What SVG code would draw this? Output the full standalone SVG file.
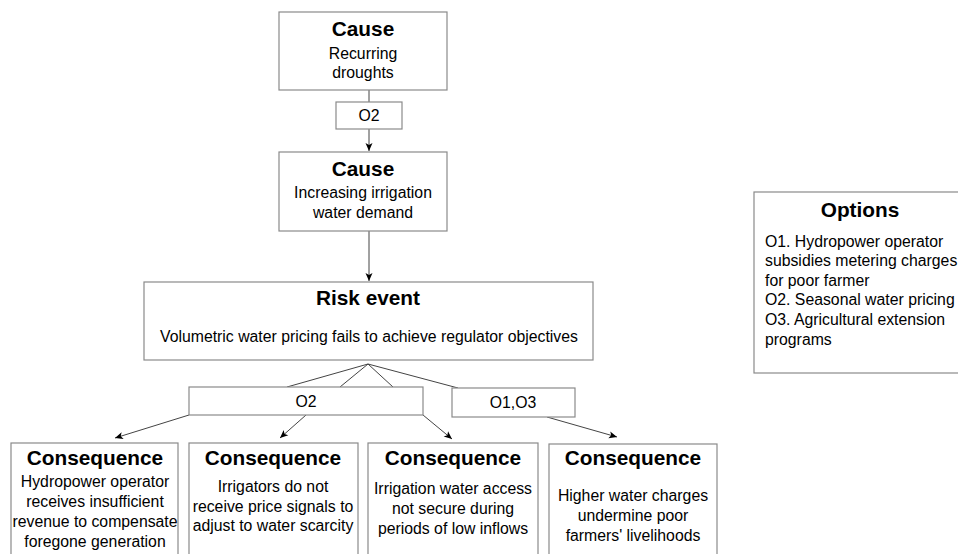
<svg xmlns="http://www.w3.org/2000/svg" width="958" height="554" viewBox="0 0 958 554">
<style>
.box{fill:#fff;stroke:#8a8a8a;stroke-width:1.2}
.t{font-family:"Liberation Sans",Arial,sans-serif;font-weight:bold;font-size:20.8px;fill:#000;text-anchor:middle}
.b{font-family:"Liberation Sans",Arial,sans-serif;font-size:15.8px;fill:#000;text-anchor:middle}
.l{font-family:"Liberation Sans",Arial,sans-serif;font-size:15.8px;fill:#000}
.c{fill:none;stroke:#444;stroke-width:1}
</style>
<defs>
<marker id="ah" markerWidth="10" markerHeight="10" refX="9" refY="5" orient="auto" markerUnits="userSpaceOnUse">
<path d="M1,1.5 L9,5 L1,8.5 L3,5 Z" fill="#000"/>
</marker>
</defs>
<rect width="958" height="554" fill="#fff"/>
<g id="connectors">
<line class="c" x1="369" y1="90" x2="369" y2="102"/>
<line class="c" x1="369" y1="129" x2="369" y2="151" marker-end="url(#ah)"/>
<line class="c" x1="369" y1="231" x2="369" y2="281" marker-end="url(#ah)"/>
<line class="c" x1="368" y1="364" x2="287" y2="387"/>
<line class="c" x1="368" y1="364" x2="340" y2="387"/>
<line class="c" x1="368" y1="364" x2="393" y2="387"/>
<line class="c" x1="368" y1="364" x2="458" y2="388"/>
<line class="c" x1="189" y1="415" x2="115" y2="438" marker-end="url(#ah)"/>
<line class="c" x1="306" y1="415" x2="280" y2="438" marker-end="url(#ah)"/>
<line class="c" x1="423" y1="415" x2="452" y2="439" marker-end="url(#ah)"/>
<line class="c" x1="547" y1="417" x2="617" y2="437" marker-end="url(#ah)"/>
</g>
<g id="cause1">
<rect class="box" x="279" y="12" width="168" height="78"/>
<text class="t" x="363" y="36">Cause</text>
<text class="b" x="363" y="59">Recurring</text>
<text class="b" x="363" y="78">droughts</text>
</g>
<g id="o2a">
<rect class="box" x="336" y="102" width="66" height="27"/>
<text class="b" x="369" y="121">O2</text>
</g>
<g id="cause2">
<rect class="box" x="279" y="152" width="168" height="79"/>
<text class="t" x="363" y="176">Cause</text>
<text class="b" x="363" y="198">Increasing irrigation</text>
<text class="b" x="363" y="218">water demand</text>
</g>
<g id="risk">
<rect class="box" x="144" y="282" width="449" height="78"/>
<text class="t" x="368" y="305">Risk event</text>
<text class="b" x="369" y="342">Volumetric water pricing fails to achieve regulator objectives</text>
</g>
<g id="o2b">
<rect class="box" x="189" y="387" width="234" height="28"/>
<text class="b" x="306" y="407">O2</text>
</g>
<g id="o13">
<rect class="box" x="452" y="388" width="123" height="29"/>
<text class="b" x="513" y="408">O1,O3</text>
</g>
<g id="cons1">
<rect class="box" x="11" y="443" width="167" height="120"/>
<text class="t" x="95" y="465">Consequence</text>
<text class="b" x="95" y="487">Hydropower operator</text>
<text class="b" x="95" y="507">receives insufficient</text>
<text class="b" x="95" y="527">revenue to compensate</text>
<text class="b" x="95" y="547">foregone generation</text>
</g>
<g id="cons2">
<rect class="box" x="189" y="443" width="169" height="120"/>
<text class="t" x="273" y="465">Consequence</text>
<text class="b" x="273" y="492">Irrigators do not</text>
<text class="b" x="273" y="512">receive price signals to</text>
<text class="b" x="273" y="531">adjust to water scarcity</text>
</g>
<g id="cons3">
<rect class="box" x="368" y="443" width="170" height="120"/>
<text class="t" x="453" y="465">Consequence</text>
<text class="b" x="453" y="494">Irrigation water access</text>
<text class="b" x="453" y="514">not secure during</text>
<text class="b" x="453" y="534">periods of low inflows</text>
</g>
<g id="cons4">
<rect class="box" x="549" y="444" width="168" height="120"/>
<text class="t" x="633" y="465">Consequence</text>
<text class="b" x="633" y="501">Higher water charges</text>
<text class="b" x="633" y="521">undermine poor</text>
<text class="b" x="633" y="541">farmers' livelihoods</text>
</g>
<g id="options">
<rect class="box" x="754" y="192" width="220" height="181"/>
<text class="t" x="860" y="217">Options</text>
<text class="l" x="765" y="247">O1. Hydropower operator</text>
<text class="l" x="765" y="266">subsidies metering charges</text>
<text class="l" x="765" y="286">for poor farmer</text>
<text class="l" x="765" y="305">O2. Seasonal water pricing</text>
<text class="l" x="765" y="325">O3. Agricultural extension</text>
<text class="l" x="765" y="345">programs</text>
</g>
</svg>
